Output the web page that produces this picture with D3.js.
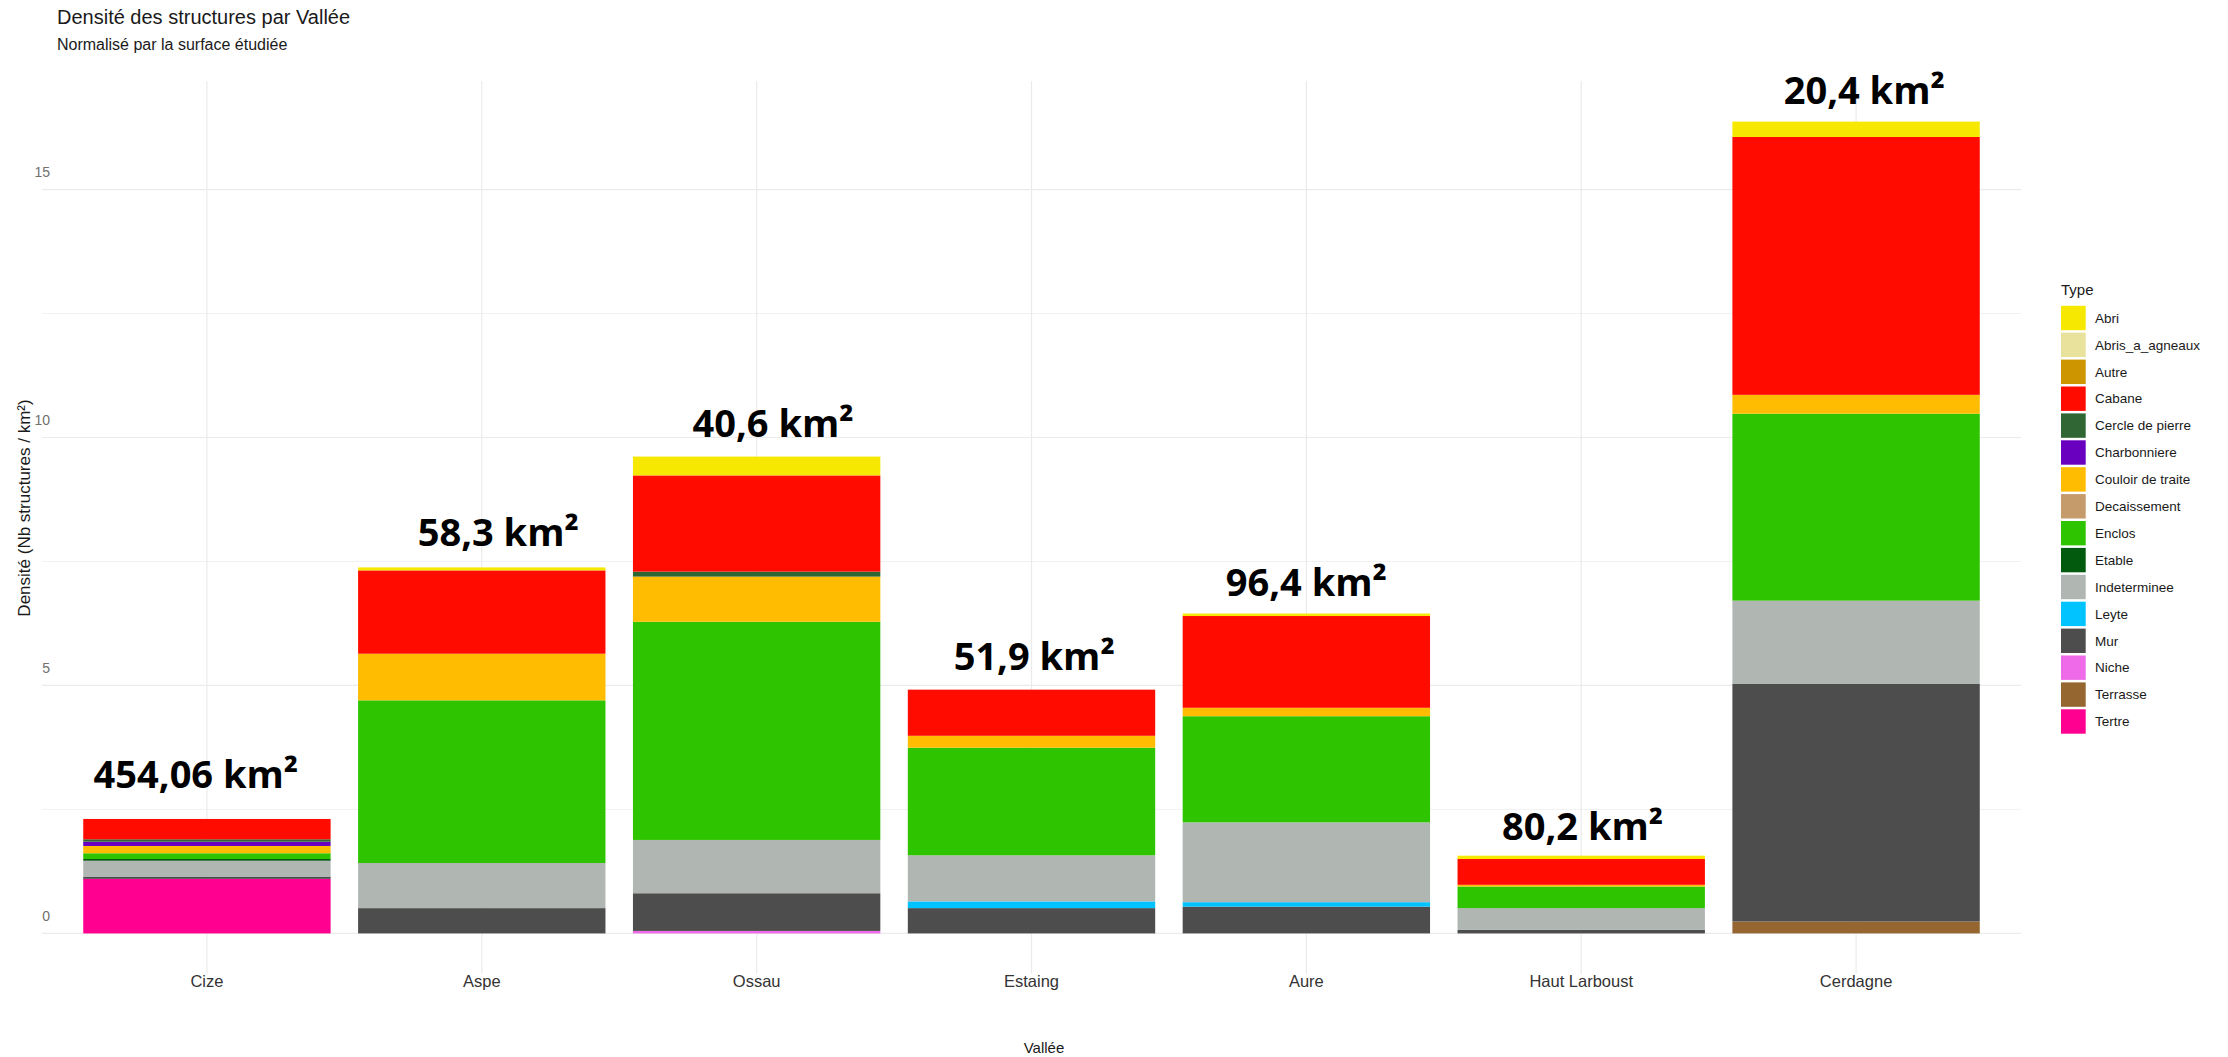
<!DOCTYPE html>
<html>
<head>
<meta charset="utf-8">
<script src="https://cdn.jsdelivr.net/npm/d3@7"></script>
<style>
  html, body { margin: 0; padding: 0; background: white; }
  text { font-family: "Liberation Sans", Arial, sans-serif; }
</style>
</head>
<body>
<div id="chart"></div>
<script>
// Vallées et surfaces étudiées
const vallees = ["Cize", "Aspe", "Ossau", "Estaing", "Aure", "Haut Larboust", "Cerdagne"];
const surfaces = ["454,06 km²", "58,3 km²", "40,6 km²", "51,9 km²", "96,4 km²", "80,2 km²", "20,4 km²"];
// position des étiquettes de surface : densité (y) et décalage en fraction de bande (x)
const labelY = [3.21, 8.08, 10.29, 5.59, 7.08, 2.15, 17.0];
const labelDx = [-0.04, 0.06, 0.06, 0.01, 0, 0.005, 0.03];

const types = ["Abri", "Abris_a_agneaux", "Autre", "Cabane", "Cercle de pierre", "Charbonniere",
  "Couloir de traite", "Decaissement", "Enclos", "Etable", "Indeterminee", "Leyte", "Mur",
  "Niche", "Terrasse", "Tertre"];
const couleurs = ["#F6E800", "#E8E29C", "#CD9500", "#FF0B00", "#2F6633", "#6A00BF",
  "#FFBC00", "#C59B6B", "#2EC400", "#015A0D", "#B0B7B3", "#00C3FF", "#4D4D4D",
  "#EE6AE8", "#966631", "#FF0090"];

// densités (Nb structures / km²) par type, dans l'ordre des vallées
const abri           = [0,     0.06, 0.38,  0,     0.05, 0.067, 0.31];
const abrisAgneaux   = [0,     0,    0,     0,     0,    0,     0];
const autre          = [0,     0,    0,     0,     0,    0,     0];
const cabane         = [0.41,  1.68, 1.94,  0.93,  1.85, 0.52,  5.20];
const cerclePierre   = [0.048, 0,    0.10,  0,     0,    0,     0];
const charbonniere   = [0.087, 0,    0,     0,     0,    0,     0];
const couloirTraite  = [0.147, 0.94, 0.91,  0.24,  0.17, 0.034, 0.38];
const decaissement   = [0,     0,    0,     0,     0,    0,     0];
const enclos         = [0.115, 3.28, 4.40,  2.17,  2.14, 0.436, 3.77];
const etable         = [0.035, 0,    0,     0,     0,    0,     0];
const indeterminee   = [0.32,  0.91, 1.075, 0.93,  1.61, 0.44,  1.68];
const leyte          = [0,     0,    0,     0.135, 0.09, 0,     0];
const mur            = [0.046, 0.51, 0.76,  0.51,  0.54, 0.07,  4.79];
const niche          = [0,     0,    0.05,  0,     0,    0,     0];
const terrasse       = [0,     0,    0,     0,     0,    0,     0.24];
const tertre         = [1.10,  0,    0,     0,     0,    0,     0];

const yTicks = [0, 5, 10, 15];

const series = [abri, abrisAgneaux, autre, cabane, cerclePierre, charbonniere, couloirTraite,
  decaissement, enclos, etable, indeterminee, leyte, mur, niche, terrasse, tertre];

const width = 2228;
const height = 1057;
const margin = { top: 81, right: 207, bottom: 83, left: 42 };

const rows = vallees.map((v, i) => {
  const r = { vallee: v };
  types.forEach((t, j) => { r[t] = series[j][i]; });
  return r;
});

// ggplot empile le premier niveau en haut : on inverse l'ordre des clés
const stacked = d3.stack().keys(types.slice().reverse())(rows);
const maxTotal = d3.max(stacked[stacked.length - 1], d => d[1]);

const color = d3.scaleOrdinal().domain(types).range(couleurs);

const svg = d3.select("#chart")
  .append("svg")
  .attr("width", width)
  .attr("height", height)
  .style("background", "white");

const x = d3.scaleBand()
  .domain(vallees)
  .range([margin.left, width - margin.right])
  .paddingInner(0.1)
  .paddingOuter(0.15);

const y = d3.scaleLinear()
  .domain([-0.05 * maxTotal, 1.05 * maxTotal])
  .range([height - margin.bottom, margin.top]);

// grille
const grid = svg.append("g");
grid.selectAll(".minor")
  .data([2.5, 7.5, 12.5])
  .enter().append("line")
    .attr("x1", margin.left).attr("x2", width - margin.right)
    .attr("y1", d => y(d)).attr("y2", d => y(d))
    .attr("stroke", "#f1f1f1").attr("stroke-width", 1);
grid.selectAll(".major")
  .data(yTicks)
  .enter().append("line")
    .attr("x1", margin.left).attr("x2", width - margin.right)
    .attr("y1", d => y(d)).attr("y2", d => y(d))
    .attr("stroke", "#ebebeb").attr("stroke-width", 1.2);
grid.selectAll(".vert")
  .data(vallees)
  .enter().append("line")
    .attr("x1", d => x(d) + x.bandwidth() / 2).attr("x2", d => x(d) + x.bandwidth() / 2)
    .attr("y1", margin.top).attr("y2", height - margin.bottom)
    .attr("stroke", "#ebebeb").attr("stroke-width", 1.2);

// barres empilées
svg.append("g")
  .selectAll("g")
  .data(stacked)
  .enter().append("g")
    .attr("fill", d => color(d.key))
  .selectAll("rect")
  .data(d => d.filter(s => s[1] - s[0] > 0))
  .enter().append("rect")
    .attr("x", d => x(d.data.vallee))
    .attr("y", d => y(d[1]))
    .attr("width", x.bandwidth())
    .attr("height", d => y(d[0]) - y(d[1]));

// étiquettes de surface
svg.append("g")
  .selectAll("text")
  .data(vallees)
  .enter().append("text")
    .attr("x", (d, i) => x(d) + x.bandwidth() / 2 + labelDx[i] * x.step())
    .attr("y", (d, i) => y(labelY[i]))
    .attr("dy", "0.36em")
    .attr("text-anchor", "middle")
    .style("font-family", "'Open Sans', 'Noto Sans', sans-serif")
    .attr("font-weight", "bold")
    .attr("font-size", "38px")
    .attr("fill", "#000")
    .text((d, i) => surfaces[i]);

// axe y
const yAxis = svg.append("g")
  .attr("transform", "translate(50,0)")
  .call(d3.axisLeft(y).tickValues(yTicks).tickSize(0).tickPadding(0));
yAxis.select(".domain").remove();
yAxis.selectAll("text")
  .attr("dy", "-13px")
  .attr("font-size", "14px")
  .attr("fill", "#707070")
  .style("font-family", "'Liberation Sans', Arial, sans-serif");

// axe x
const xAxis = svg.append("g")
  .attr("transform", `translate(0,${height - margin.bottom})`)
  .call(d3.axisBottom(x).tickSize(0).tickPadding(0));
xAxis.select(".domain").remove();
xAxis.selectAll("text")
  .attr("y", 13)
  .attr("dy", 0)
  .attr("font-size", "16.5px")
  .attr("fill", "#333")
  .style("font-family", "'Liberation Sans', Arial, sans-serif");

// titres d'axes
svg.append("text")
  .attr("x", 1044)
  .attr("y", 1053)
  .attr("text-anchor", "middle")
  .attr("font-size", "15px")
  .attr("fill", "#1a1a1a")
  .text("Vallée");

svg.append("text")
  .attr("transform", "translate(30,508) rotate(-90)")
  .attr("text-anchor", "middle")
  .attr("font-size", "17px")
  .attr("fill", "#1a1a1a")
  .text("Densité (Nb structures / km²)");

// titre
svg.append("text")
  .attr("x", 57)
  .attr("y", 24)
  .attr("font-size", "20px")
  .attr("fill", "#1a1a1a")
  .text("Densité des structures par Vallée");

svg.append("text")
  .attr("x", 57)
  .attr("y", 50)
  .attr("font-size", "16px")
  .attr("fill", "#1a1a1a")
  .text("Normalisé par la surface étudiée");

// légende
const legend = svg.append("g").attr("transform", "translate(2061,0)");
legend.append("text")
  .attr("x", 0)
  .attr("y", 295)
  .attr("font-size", "15px")
  .attr("fill", "#1a1a1a")
  .text("Type");

const keys = legend.selectAll(".key")
  .data(types)
  .enter().append("g")
    .attr("transform", (d, i) => `translate(0,${318 + i * 26.9})`);
keys.append("rect")
  .attr("x", 0)
  .attr("y", -12.2)
  .attr("width", 24.7)
  .attr("height", 24.4)
  .attr("fill", d => color(d));
keys.append("text")
  .attr("x", 34)
  .attr("dy", "0.35em")
  .attr("font-size", "13.5px")
  .attr("fill", "#1a1a1a")
  .text(d => d);
</script>
</body>
</html>
